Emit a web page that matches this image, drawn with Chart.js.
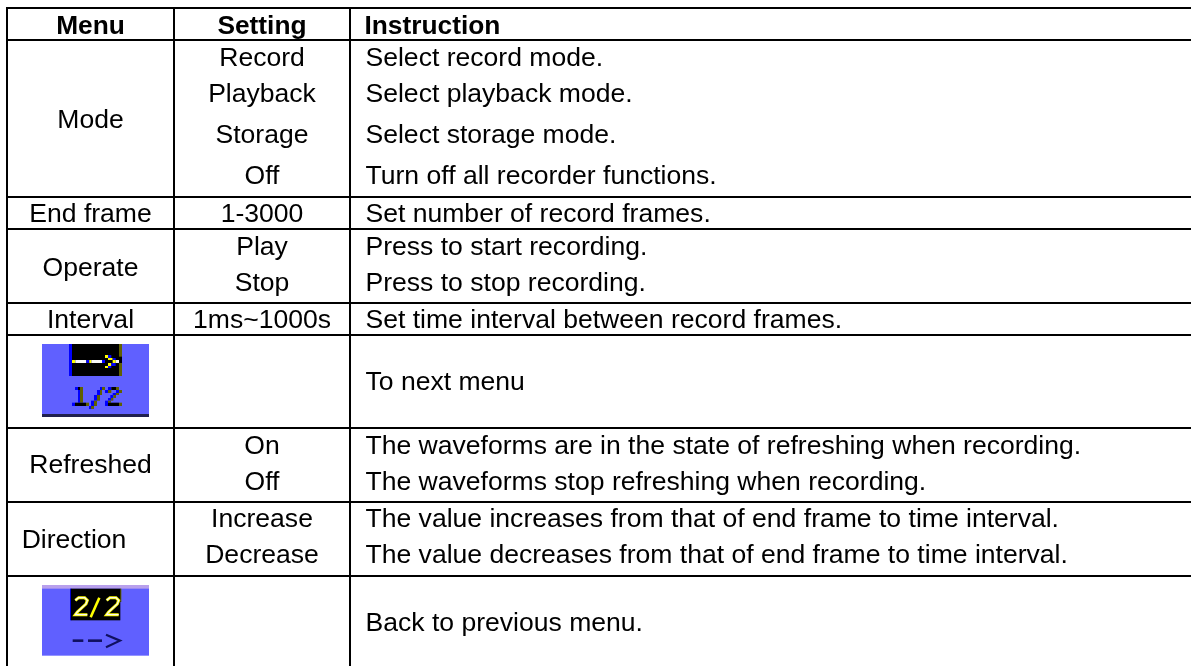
<!DOCTYPE html>
<html><head><meta charset="utf-8">
<style>html,body{margin:0;padding:0;background:#fff;overflow:hidden}canvas{display:block}</style>
<script src="https://cdn.jsdelivr.net/npm/chart.js@4"></script>
</head><body><canvas id="c" width="1191" height="666"></canvas>
<script>
const headers = ["Menu","Setting","Instruction"];
const menuLabels = ["Mode","End frame","Operate","Interval","Refreshed","Direction"];
const settingLabels = ["Record","Playback","Storage","Off","1-3000","Play","Stop","1ms~1000s","On","Off","Increase","Decrease"];
const instructionLabels = ["Select record mode.","Select playback mode.","Select storage mode.","Turn off all recorder functions.","Set number of record frames.","Press to start recording.","Press to stop recording.","Set time interval between record frames.","To next menu","The waveforms are in the state of refreshing when recording.","The waveforms stop refreshing when recording.","The value increases from that of end frame to time interval.","The value decreases from that of end frame to time interval.","Back to previous menu."];
const rowRules = [8,40,197,229,303,335,428,502,576];
const columnRules = [7,174,350];
const menuRows = [119,213,267,319,464,539];
const menuCols = [90.5,90.5,90.5,90.5,90.5,74];
const settingRows = [57,93,134,175,213,246,282,319,445,481,518,554];
const instructionRows = [57,93,134,175,213,246,282,319,381,445,481,518,554,622];
const headerRow = 25;

const FONT = '"Liberation Sans", Arial, sans-serif';
const datasets = [];
rowRules.forEach(y => datasets.push({data:[{x:6,y},{x:1191,y}]}));
columnRules.forEach(x => datasets.push({data:[{x,y:7},{x,y:666}]}));
datasets.forEach(d => Object.assign(d,{showLine:true,borderColor:'#000',borderWidth:2,pointRadius:0,borderCapStyle:'butt'}));

const tablePlugin = {
  id:'table',
  afterDatasetsDraw(chart){
    const {ctx,scales:{x:sx,y:sy}} = chart;
    const X=v=>sx.getPixelForValue(v), Y=v=>sy.getPixelForValue(v);
    ctx.save();
    ctx.fillStyle='#000'; ctx.textBaseline='alphabetic';
    const put=(t,x,y,al,bold)=>{ctx.font=(bold?'bold 26.3px ':'26.55px ')+FONT;ctx.textAlign=al;ctx.fillText(t,X(x),Y(y)+9);};
    put(headers[0],90.5,headerRow,'center',true);
    put(headers[1],262,headerRow,'center',true);
    put(headers[2],364.5,headerRow,'left',true);
    menuLabels.forEach((t,i)=>put(t,menuCols[i],menuRows[i],'center'));
    settingLabels.forEach((t,i)=>put(t,262,settingRows[i],'center'));
    instructionLabels.forEach((t,i)=>put(t,365.5,instructionRows[i],'left'));
    const rect=(ox,oy,c,x0,y0,x1,y1)=>{ctx.fillStyle=c;ctx.fillRect(X(ox+x0/3),Y(oy+y0/3),(x1-x0)/3,(y1-y0)/3);};
    const B='#0000ff',O='#606000',K='#000',W='#f8f8f8',Ye='#ffff00',P='#6060ff';
    const a=(c,x0,y0,x1,y1)=>rect(38,340,c,x0,y0,x1,y1);
    a(P,12,12,333,222); a('#20204f',12,222,333,231);
    a(K,93,12,252,108); a(B,93,12,102,108); a(O,243,12,252,50); a(O,243,69,252,108);
    [[Ye,102,112],[W,112,145],[B,145,154],[Ye,154,160],[W,160,192],[B,192,201],[K,201,224],[Ye,224,233],[W,233,243]].forEach(s=>a(s[0],s[1],60,s[2],69));
    a(Ye,201,45,210,54);a(B,210,45,220,54);a(Ye,210,54,224,60);a(B,224,54,233,60);
    a(Ye,210,69,220,78);a(B,220,69,233,78);a(Ye,201,78,210,84);a(B,210,78,220,84);
    a(B,111,141,120,150);a(K,120,141,126,150);a(O,126,141,135,188);a(B,120,150,126,188);
    a(B,102,188,111,198);a(K,111,188,144,198);a(O,144,188,153,198);
    a(B,186,141,192,150);a(O,192,141,201,150);a(B,177,150,186,165);a(O,186,150,192,165);
    a(B,168,165,177,182);a(O,177,165,186,182);a(B,159,182,168,198);a(O,168,182,177,198);
    a(B,153,198,159,207);a(O,159,198,168,207);
    a(B,210,141,220,150);a(K,220,141,234,150);a(O,234,141,243,150);
    a(B,201,150,210,159);a(O,210,150,220,159);a(B,234,150,243,159);a(O,243,150,252,159);
    a(B,224,159,234,165);a(O,234,159,243,165);a(B,217,165,226,174);a(O,226,165,234,174);
    a(B,210,174,219,182);a(O,219,174,226,182);a(B,201,182,210,198);a(O,210,182,219,188);
    a(K,210,188,243,198);a(O,243,188,252,198);
    const b=(c,x0,y0,x1,y1)=>rect(38,582,c,x0,y0,x1,y1);
    b(P,12,9,333,221); b('#b8a0ec',12,9,333,20);
    ctx.save(); ctx.beginPath(); ctx.rect(X(42),Y(588.6),107,67.4); ctx.clip();
    ctx.filter='blur(0.7px)';
    b('#0000d0',96,19,100,115); b('#606000',246,19,250,60);
    b(K,99,19,247,115);
    const poly=(pts,c,w)=>{ctx.strokeStyle=c;ctx.lineWidth=w;ctx.lineJoin='miter';ctx.beginPath();pts.forEach((p,i)=>{const px=X(38+p[0]/3),py=Y(582+p[1]/3);i?ctx.lineTo(px,py):ctx.moveTo(px,py);});ctx.stroke();};
    const two=dx=>[[112+dx,55],[122+dx,47],[140+dx,47],[148+dx,55],[144+dx,66],[118+dx,90],[112+dx,98],[148+dx,98]];
    [two(0),two(94)].forEach(p=>{poly(p,Ye,3);poly(p,W,1.2);});
    poly([[184,47],[158,106]],Ye,2.6);
    poly([[104,176],[136,176]],'#101060',2.6);poly([[150,176],[192,176]],'#101060',2.6);
    poly([[204,158],[246,176],[204,196]],'#101060',2.2);
    ctx.restore();
    ctx.restore();
  }
};
new Chart(document.getElementById('c'),{
  type:'scatter',
  data:{datasets},
  options:{responsive:false,animation:false,events:[],
    layout:{padding:0},
    plugins:{legend:{display:false},tooltip:{enabled:false},title:{display:false}},
    scales:{x:{type:'linear',min:0,max:1191,display:false},y:{type:'linear',min:0,max:666,reverse:true,display:false}}
  },
  plugins:[tablePlugin]
});
</script></body></html>
